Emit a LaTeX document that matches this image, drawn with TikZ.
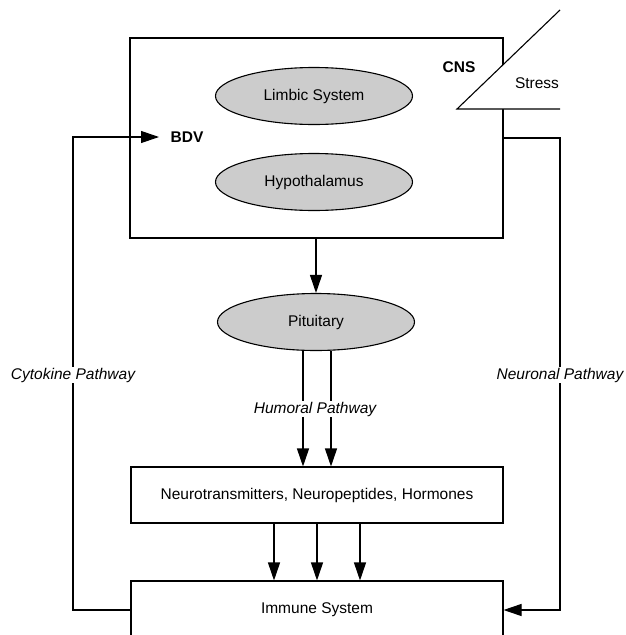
\documentclass[tikz,border=0pt]{standalone}
\usepackage{fontspec}
\setmainfont{Liberation Sans}
\usetikzlibrary{arrows.meta,shapes.geometric}
\begin{document}
\begin{tikzpicture}[x=1pt,y=-1pt, line width=1.1pt,
  every node/.style={font=\fontsize{15.5}{18}\selectfont},
  box/.style={draw, rectangle, inner sep=0pt},
  oval/.style={draw, ellipse, fill=black!20, minimum width=197pt, minimum height=57pt, inner sep=0pt},
  arr/.style={-{Triangle[length=18pt,width=12pt]}},
  lbl/.style={font=\fontsize{15.5}{18}\selectfont\itshape, fill=white, inner sep=1pt},
  bold/.style={font=\fontsize{15.5}{18}\selectfont\bfseries}]
\useasboundingbox (0,0) rectangle (626,635);
\clip (0,0) rectangle (626,635);
% boxes
\node[box, minimum width=373pt, minimum height=200pt] (cns) at (316.5,138) {};
\node[oval] (limbic) at (314,96) {Limbic System};
\node[oval] (hypo) at (314,182) {Hypothalamus};
\node[oval] (pit) at (316,322) {Pituitary};
\node[box, minimum width=372pt, minimum height=56pt] (nt) at (317,495) {Neurotransmitters, Neuropeptides, Hormones};
\node[box, minimum width=372pt, minimum height=58pt] (imm) at (317,610) {Immune System};
% stress triangle
\coordinate (s1) at (560,10);
\coordinate (s2) at (457,109);
\coordinate (s3) at (560,109);
\fill[white] (s1) -- (s2) -- (s3) -- cycle;
\draw (s1) -- (s2) -- (s3);
\node[bold] (cnsl) at (459,67) {CNS};
\node (stress) at (537,83) {Stress};
\node[bold] (bdv) at (187,137) {BDV};
% arrows
\draw[arr] (cns.south -| pit) -- (pit.north);
\draw[arr] ([xshift=-13pt]pit.south) -- ([xshift=-13pt]pit.south |- nt.north);
\draw[arr] ([xshift=15pt]pit.south) -- ([xshift=15pt]pit.south |- nt.north);
\draw[arr] ([xshift=-43pt]nt.south) -- ([xshift=-43pt]nt.south |- imm.north);
\draw[arr] (nt.south) -- (nt.south |- imm.north);
\draw[arr] ([xshift=43pt]nt.south) -- ([xshift=43pt]nt.south |- imm.north);
% side pathways
\coordinate (bdvin) at (159,137);
\coordinate (lx) at (73,137);
\coordinate (rx) at (560,138);
\draw[arr] (imm.west) -| (lx) -- (bdvin);
\draw[arr] (cns.east) -- (rx) |- (imm.east);
% labels
\node[lbl] (hum) at (315,409) {Humoral Pathway};
\node[lbl] (cyt) at (73,375) {Cytokine Pathway};
\node[lbl] (neu) at (560,375) {Neuronal Pathway};
\end{tikzpicture}
\end{document}
